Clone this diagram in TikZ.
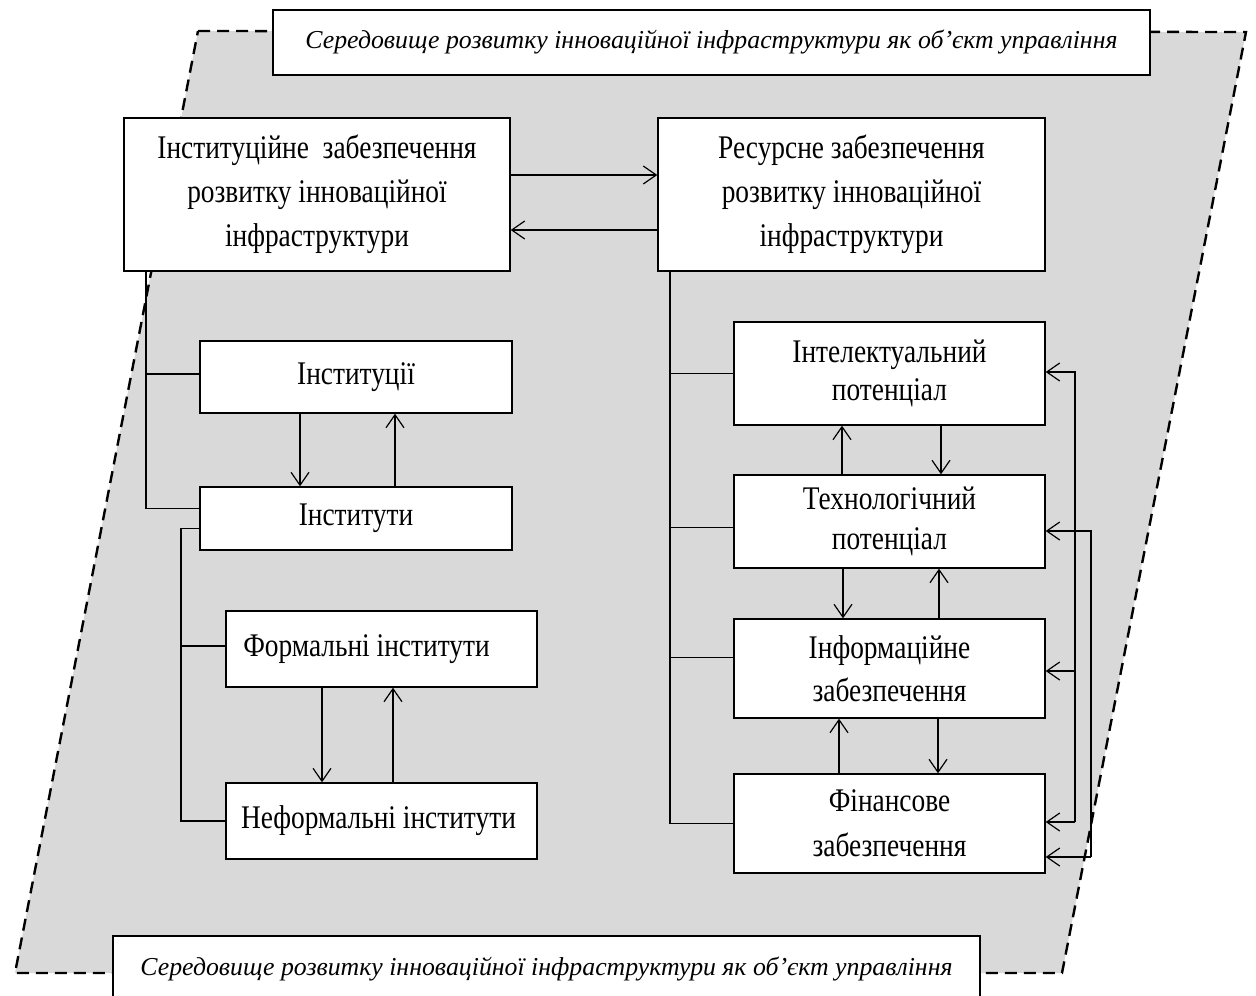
\documentclass[tikz,border=0pt]{standalone}
\usepackage{fontspec}
\setmainfont{Liberation Serif}
\newfontfamily\bx[FakeStretch=0.83]{Liberation Serif}
\newfontfamily\ttl{Liberation Serif}
\usetikzlibrary{arrows.meta}
\newcommand\bxs[1]{\bx\fontsize{33}{#1}\selectfont}
\tikzset{
  box/.style={draw=black, fill=white, line width=1.4pt, inner sep=0pt, align=center},
  ttlbox/.style={draw=black, fill=white, line width=1.4pt, inner sep=0pt, font={\ttl\itshape\fontsize{25.8}{30}\selectfont}},
  ln/.style={line width=1.2pt},
  arr/.style={line width=1.2pt, -{Straight Barb[length=13pt,width=18pt,line width=1.2pt]}},
  env/.style={fill=gray!30, draw=black, line width=2.4pt, dash pattern=on 12pt off 7pt},
}
\begin{document}
\begin{tikzpicture}[x=1pt,y=-1pt]
\useasboundingbox (0,0) rectangle (1256,996);
% environment parallelogram
\draw[env] (198,31) -- (1246,32) -- (1062,973) -- (15,973) -- cycle;
% titles
\node[ttlbox, minimum width=877pt, minimum height=65pt] (t1) at (711.5,42.5) {\raisebox{2pt}{Середовище розвитку інноваційної інфраструктури як об’єкт управління}};
\node[ttlbox, minimum width=867pt, minimum height=66pt] (t2) at (546.5,969) {\raisebox{2pt}{Середовище розвитку інноваційної інфраструктури як об’єкт управління}};
% main boxes
\node[box, font=\bxs{44}, minimum width=386pt, minimum height=153pt] (inst) at (317,194.5) {Інституційне~~забезпечення\\розвитку інноваційної\\інфраструктури};
\node[box, font=\bxs{44}, minimum width=387pt, minimum height=153pt] (res) at (851.5,194.5) {Ресурсне забезпечення\\розвитку інноваційної\\інфраструктури};
% left column
\node[box, font=\bxs{44}, minimum width=312pt, minimum height=72pt] (instc) at (356,377) {\raisebox{4pt}{Інституції}};
\node[box, font=\bxs{44}, minimum width=312pt, minimum height=63pt] (insty) at (356,518.5) {Інститути};
\node[box, font=\bxs{44}, minimum width=311pt, minimum height=76pt] (form) at (381.5,649) {\raisebox{5pt}{Формальні інститути}\hspace*{30pt}};
\node[box, font=\bxs{44}, minimum width=311pt, minimum height=76pt] (neform) at (381.5,821) {\raisebox{7pt}{Неформальні інститути}\hspace*{6pt}};
% right column
\node[box, font=\bxs{38}, minimum width=311pt, minimum height=103pt] (intel) at (889.5,373.5) {Інтелектуальний\\потенціал};
\node[box, font=\bxs{40}, minimum width=311pt, minimum height=93pt] (tech) at (889.5,521.5) {Технологічний\\потенціал};
\node[box, font=\bxs{43}, minimum width=311pt, minimum height=99pt] (inform) at (889.5,668.5) {Інформаційне\\забезпечення};
\node[box, font=\bxs{45}, minimum width=311pt, minimum height=99pt] (fin) at (889.5,823.5) {Фінансове\\забезпечення};
% coordinates for buses
\coordinate (bl1) at (146,0);
\coordinate (bl2) at (181,0);
\coordinate (br) at (670,0);
\coordinate (fa) at (1075,822);
\coordinate (fb) at (1091,857);
% top arrows
\draw[arr] (inst.east |- 0,175) -- (res.west |- 0,175);
\draw[arr] (res.west |- 0,230) -- (inst.east |- 0,230);
% left bus 1
\draw[ln] (inst.south -| bl1) |- ([yshift=10pt]insty.west);
\draw[ln] ([yshift=3pt]instc.west -| bl1) -- ([yshift=3pt]instc.west);
% left bus 2
\draw[ln] ([yshift=-10pt]insty.west) -| (neform.west -| bl2) -- (neform.west);
\draw[ln] ([yshift=3pt]form.west -| bl2) -- ([yshift=3pt]form.west);
% left vertical arrows
\draw[arr] (instc.south -| 300,0) -- (insty.north -| 300,0);
\draw[arr] (insty.north -| 395,0) -- (instc.south -| 395,0);
\draw[arr] (form.south -| 322,0) -- (neform.north -| 322,0);
\draw[arr] (neform.north -| 393,0) -- (form.south -| 393,0);
% right bus
\draw[ln] (res.south -| br) |- (fin.west);
\draw[ln] (intel.west -| br) -- (intel.west);
\draw[ln] ([yshift=-6pt]tech.west -| br) -- ([yshift=-6pt]tech.west);
\draw[ln] ([yshift=11pt]inform.west -| br) -- ([yshift=11pt]inform.west);
% right vertical arrows
\draw[arr] (tech.north -| 842,0) -- (intel.south -| 842,0);
\draw[arr] (intel.south -| 941,0) -- (tech.north -| 941,0);
\draw[arr] (tech.south -| 843,0) -- (inform.north -| 843,0);
\draw[arr] (inform.north -| 939,0) -- (tech.south -| 939,0);
\draw[arr] (fin.north -| 839,0) -- (inform.south -| 839,0);
\draw[arr] (inform.south -| 938,0) -- (fin.north -| 938,0);
% feedback lines
\draw[arr] (fa) |- ([yshift=1.5pt]intel.east);
\draw[arr] (fa) -- (fin.east |- fa);
\draw[arr] ([yshift=-2.5pt]inform.east -| fa) -- ([yshift=-2.5pt]inform.east);
\draw[arr] (fb) |- ([yshift=-9.5pt]tech.east);
\draw[arr] (fb) -- (fin.east |- fb);
\end{tikzpicture}
\end{document}
